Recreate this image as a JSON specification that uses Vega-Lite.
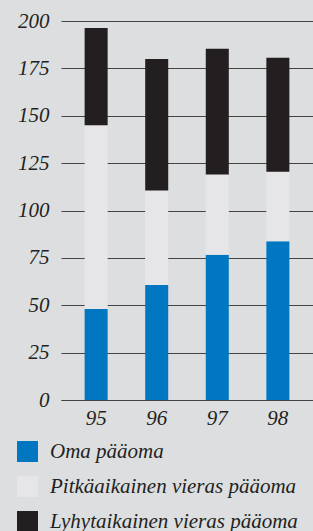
{
  "$schema": "https://vega.github.io/schema/vega-lite/v6.json",
  "width": 252,
  "height": 379,
  "autosize": "none",
  "padding": {"left": 61, "top": 21, "right": 0, "bottom": 131},
  "background": "#dddee0",
  "data": {
    "values": [
      {"year": "95", "series": "Oma pääoma", "value": 48},
      {"year": "95", "series": "Pitkäaikainen vieras pääoma", "value": 97},
      {"year": "95", "series": "Lyhytaikainen vieras pääoma", "value": 51.3},
      {"year": "96", "series": "Oma pääoma", "value": 60.7},
      {"year": "96", "series": "Pitkäaikainen vieras pääoma", "value": 49.8},
      {"year": "96", "series": "Lyhytaikainen vieras pääoma", "value": 69.4},
      {"year": "97", "series": "Oma pääoma", "value": 76.6},
      {"year": "97", "series": "Pitkäaikainen vieras pääoma", "value": 42.4},
      {"year": "97", "series": "Lyhytaikainen vieras pääoma", "value": 66.3},
      {"year": "98", "series": "Oma pääoma", "value": 83.8},
      {"year": "98", "series": "Pitkäaikainen vieras pääoma", "value": 36.6},
      {"year": "98", "series": "Lyhytaikainen vieras pääoma", "value": 60.2}
    ]
  },
  "transform": [
    {"calculate": "indexof(['Oma pääoma','Pitkäaikainen vieras pääoma','Lyhytaikainen vieras pääoma'], datum.series)", "as": "stackOrder"}
  ],
  "mark": {"type": "bar"},
  "encoding": {
    "x": {
      "field": "year",
      "type": "nominal",
      "scale": {"paddingInner": 0.62, "paddingOuter": 0.39},
      "axis": {
        "title": null,
        "labelAngle": 0,
        "ticks": false,
        "domain": true,
        "domainColor": "#444444",
        "domainWidth": 1,
        "labelPadding": 7,
        "labelFont": "Liberation Serif",
        "labelFontStyle": "italic",
        "labelFontSize": 21,
        "labelColor": "#231f20"
      }
    },
    "y": {
      "field": "value",
      "type": "quantitative",
      "stack": "zero",
      "scale": {"domain": [0, 200], "nice": false},
      "axis": {
        "title": null,
        "values": [0, 25, 50, 75, 100, 125, 150, 175, 200],
        "grid": true,
        "gridColor": "#444444",
        "gridWidth": 1,
        "domain": false,
        "ticks": false,
        "labelPadding": 12,
        "labelFont": "Liberation Serif",
        "labelFontStyle": "italic",
        "labelFontSize": 21,
        "labelColor": "#231f20"
      }
    },
    "order": {"field": "stackOrder", "type": "quantitative", "sort": "ascending"},
    "color": {
      "field": "series",
      "type": "nominal",
      "sort": ["Oma pääoma", "Pitkäaikainen vieras pääoma", "Lyhytaikainen vieras pääoma"],
      "scale": {
        "domain": ["Oma pääoma", "Pitkäaikainen vieras pääoma", "Lyhytaikainen vieras pääoma"],
        "range": ["#0077c0", "#e6e6e8", "#231f20"]
      },
      "legend": {
        "title": null,
        "orient": "none",
        "legendX": -44,
        "legendY": 420,
        "symbolType": "square",
        "symbolSize": 441,
        "symbolStrokeWidth": 0,
        "labelFont": "Liberation Serif",
        "labelFontStyle": "italic",
        "labelFontSize": 21,
        "labelColor": "#231f20",
        "labelOffset": 12,
        "labelLimit": 400,
        "rowPadding": 13
      }
    }
  },
  "config": {"view": {"stroke": null}}
}
